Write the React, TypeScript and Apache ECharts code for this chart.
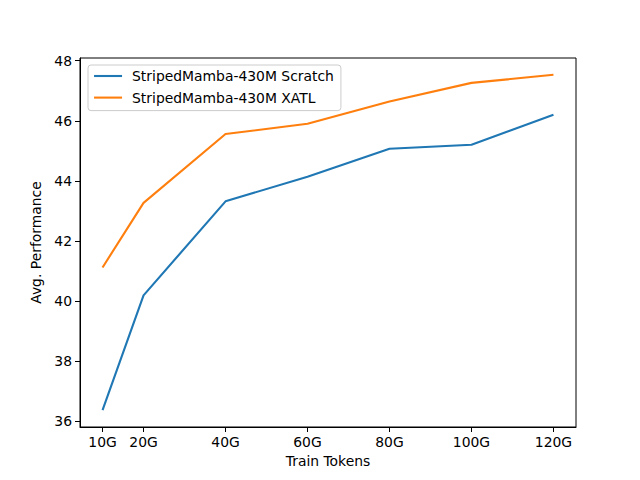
import React, { useEffect, useRef } from "react";
import * as echarts from "echarts";

const tokens = [10, 20, 40, 60, 80, 100, 120];
const tickLabels = ["10G", "20G", "40G", "60G", "80G", "100G", "120G"];
const yTicks = [36, 38, 40, 42, 44, 46, 48];
const scratch = [36.37, 40.19, 43.32, 44.14, 45.07, 45.2, 46.2];
const xatl = [41.12, 43.27, 45.56, 45.9, 46.64, 47.26, 47.53];
const seriesNames = ["StripedMamba-430M Scratch", "StripedMamba-430M XATL"];

const FONT = "DejaVu Sans";

export default function App() {
  const ref = useRef<HTMLDivElement>(null);
  useEffect(() => {
    document.body.style.margin = "0";
    const chart = echarts.init(ref.current!, null, { renderer: "svg" });
    const all = [...scratch, ...xatl];
    const dmin = Math.min(...all);
    const dmax = Math.max(...all);
    const ym = (dmax - dmin) * 0.05;
    const xm = (tokens[tokens.length - 1] - tokens[0]) * 0.05;
    chart.setOption({
      animation: false,
      backgroundColor: "#ffffff",
      textStyle: { fontFamily: FONT },
      grid: {
        left: 80,
        right: 64,
        top: 58,
        bottom: 53,
        show: true,
        borderColor: "#000",
        borderWidth: 1,
        backgroundColor: "transparent",
      },
      legend: {
        orient: "vertical",
        left: 88,
        top: 65,
        padding: [4, 7, 6, 5],
        itemWidth: 28,
        itemHeight: 14,
        itemGap: 7.6,
        backgroundColor: "#fff",
        borderColor: "#cccccc",
        borderWidth: 1,
        borderRadius: 3,
        itemStyle: { opacity: 0 },
        lineStyle: { width: 2.1 },
        textStyle: { fontFamily: FONT, fontSize: 13.9, color: "#000", padding: [0, 0, 0, 5] },
        data: seriesNames,
      },
      xAxis: {
        type: "value",
        min: tokens[0] - xm,
        max: tokens[tokens.length - 1] + xm,
        name: "Train Tokens",
        nameLocation: "middle",
        nameGap: 27,
        nameTextStyle: { fontFamily: FONT, fontSize: 13.9, color: "#000" },
        axisLine: { show: true, lineStyle: { color: "#000", width: 1 } },
        axisTick: { show: true, inside: false, length: 5, customValues: tokens, lineStyle: { color: "#000" } },
        axisLabel: {
          customValues: tokens,
          margin: 8,
          fontFamily: FONT,
          fontSize: 13.9,
          color: "#000",
          formatter: (v: number) => tickLabels[tokens.indexOf(v)] ?? "",
        },
        splitLine: { show: false },
      },
      yAxis: {
        type: "value",
        min: dmin - ym,
        max: dmax + ym,
        name: "Avg. Performance",
        nameLocation: "middle",
        nameGap: 35,
        nameTextStyle: { fontFamily: FONT, fontSize: 13.9, color: "#000" },
        axisLine: { show: true, lineStyle: { color: "#000", width: 1 } },
        axisTick: { show: true, inside: false, length: 5, customValues: yTicks, lineStyle: { color: "#000" } },
        axisLabel: {
          customValues: yTicks,
          margin: 8,
          fontFamily: FONT,
          fontSize: 13.9,
          color: "#000",
          formatter: (v: number) => String(v),
        },
        splitLine: { show: false },
      },
      series: [
        {
          name: seriesNames[0],
          type: "line",
          symbol: "none",
          data: tokens.map((t, i) => [t, scratch[i]]),
          lineStyle: { color: "#1f77b4", width: 2.1 },
          itemStyle: { color: "#1f77b4" },
        },
        {
          name: seriesNames[1],
          type: "line",
          symbol: "none",
          data: tokens.map((t, i) => [t, xatl[i]]),
          lineStyle: { color: "#ff7f0e", width: 2.1 },
          itemStyle: { color: "#ff7f0e" },
        },
      ],
    });
    return () => chart.dispose();
  }, []);
  return <div ref={ref} style={{ width: 640, height: 480 }} />;
}
